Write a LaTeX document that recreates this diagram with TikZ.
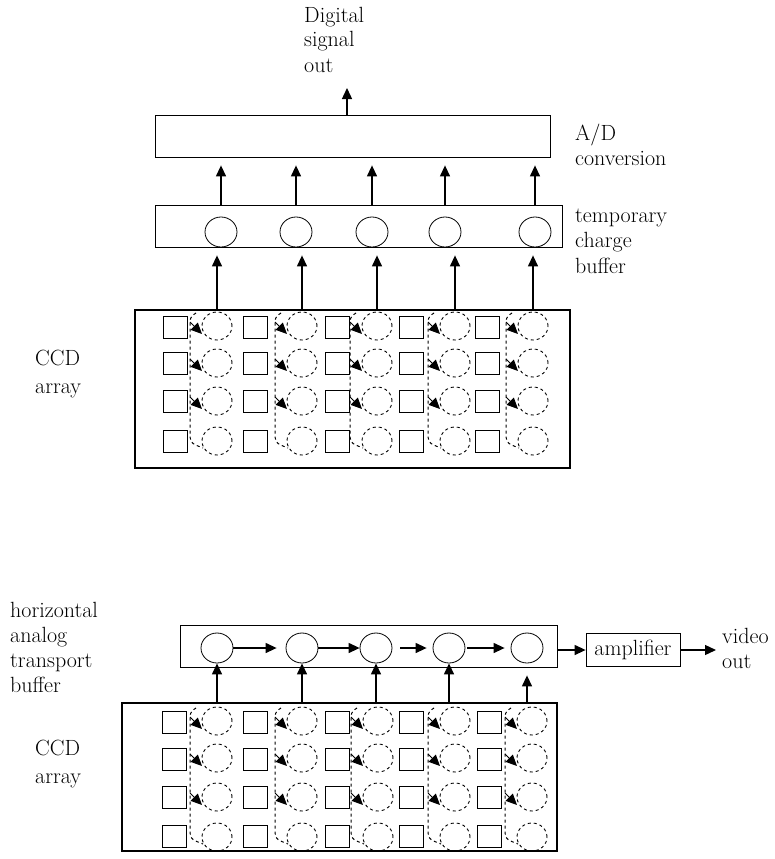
\documentclass[tikz,border=0pt]{standalone}
\usepackage{fontspec}
\usetikzlibrary{arrows.meta,shapes.geometric,calc}
\tikzset{
  lbl/.style={font=\fontsize{22}{25}\selectfont, align=left, inner sep=0pt, anchor=base west},
  box/.style={draw, line width=0.8pt, inner sep=0pt},
  arrbox/.style={draw, line width=2.2pt, inner sep=0pt},
  sq/.style={draw, line width=0.8pt, minimum width=24pt, minimum height=22pt, inner sep=0pt},
  scirc/.style={draw, ellipse, line width=0.8pt, minimum width=32pt, minimum height=30pt, inner sep=0pt},
  dcirc/.style={draw, ellipse, line width=0.9pt, dash pattern=on 3pt off 3pt, minimum width=30pt, minimum height=28pt, inner sep=0pt},
  arr/.style={line width=1.3pt, -{Triangle[length=11pt,width=10pt]}},
  flow/.style={line width=1pt, dash pattern=on 3pt off 3pt},
  fhead/.style={line width=1pt, -{Triangle[length=11pt,width=10pt]}}
}
\begin{document}
\begin{tikzpicture}[x=1pt,y=-1pt]
\useasboundingbox (0,0) rectangle (775,859);

% ---------------- top diagram ----------------
\node[lbl] (tdig) at (304,72) {Digital\\signal\\out};
\node[box, minimum width=395pt, minimum height=42pt] (ad) at (352.5,136) {};
\coordinate (dout) at (347,88);
\draw[arr] (dout |- ad.north) -- (dout);
\node[lbl] (tad) at (575,165) {A/D\\conversion};

\node[box, minimum width=407pt, minimum height=42pt] (tbuf) at (358.5,226) {};
\node[lbl, font=\fontsize{22}{25.5}\selectfont] (ttcb) at (575,273) {temporary\\charge\\buffer};
\foreach \i/\x in {1/221,2/296,3/372,4/445,5/535}{
  \node[scirc] (tb\i) at (\x,232) {};
  \draw[arr, shorten >=8pt] (tb\i.north |- tbuf.north) -- (tb\i.north |- ad.south);
}

\node[arrbox, minimum width=435pt, minimum height=158pt] (arrA) at (352.5,389) {};
\node[lbl, font=\fontsize{22}{28}\selectfont] (tccdA) at (35,393) {CCD\\array};

% squares
\foreach \c/\x in {1/175,2/255,3/337,4/411,5/487}{
  \foreach \r/\y in {1/327,2/363,3/401,4/441}{
    \node[sq] (sA\c\r) at (\x,\y) {};
  }
}
% dashed wells and flow
\foreach \c/\x in {1/217,2/302,3/377,4/455,5/533}{
  \foreach \r/\y in {1/326,2/363,3/401,4/441}{
    \node[dcirc] (dA\c\r) at (\x,\y) {};
  }
  \draw[flow] ({\x-21},313) .. controls ({\x-27},317) .. ({\x-27},330) -- ({\x-27},430) .. controls ({\x-27},443) .. ({\x-14},448);
  \foreach \y in {326,363,401}{
    \draw[fhead] ({\x-27},{\y-4}) -- ({\x-15},{\y+8});
  }
  \draw[arr, shorten >=8pt] (dA\c1.north |- arrA.north) -- (dA\c1.north |- tbuf.south);
}

% ---------------- bottom diagram ----------------
\node[lbl] (thatb) at (10,692) {horizontal\\analog\\transport\\buffer};
\node[box, minimum width=377pt, minimum height=42pt] (lbuf) at (368.5,646) {};
\foreach \i/\x in {1/217,2/302,3/376,4/449,5/527}{
  \node[scirc] (lc\i) at (\x,648) {};
}
\draw[arr, shorten >=9pt] (lc1.east) -- (lc2.west);
\draw[arr] (lc2.east) -- (lc3.west);
\draw[arr, shorten <=8pt, shorten >=6pt] (lc3.east) -- (lc4.west);
\draw[arr, shorten <=2pt, shorten >=6pt] (lc4.east) -- (lc5.west);

\node[box, font=\fontsize{22}{25}\selectfont, minimum width=94pt, minimum height=33pt] (amp) at (633,650) {amplifier};
\draw[arr] (lbuf.east |- amp.west) -- (amp.west);
\coordinate (vout) at (716,650);
\draw[arr] (amp.east) -- (vout);
\node[lbl] (tvid) at (722,668) {video\\out};

\node[arrbox, minimum width=435pt, minimum height=148pt] (arrB) at (339.5,777) {};
\node[lbl, font=\fontsize{22}{28}\selectfont] (tccdB) at (35,783) {CCD\\array};

\foreach \c/\x in {1/174.5,2/255,3/337.5,4/411,5/489}{
  \foreach \r/\y in {1/722.5,2/759.5,3/797,4/836.5}{
    \node[sq] (sB\c\r) at (\x,\y) {};
  }
}
\foreach \c/\x in {1/217,2/302,3/378,4/455,5/532}{
  \foreach \r/\y in {1/721,2/758,3/797,4/837}{
    \node[dcirc] (dB\c\r) at (\x,\y) {};
  }
  \draw[flow] ({\x-21},708) .. controls ({\x-27},712) .. ({\x-27},725) -- ({\x-27},826) .. controls ({\x-27},839) .. ({\x-14},844);
  \foreach \y in {721,758,797}{
    \draw[fhead] ({\x-27},{\y-4}) -- ({\x-15},{\y+8});
  }
}
\foreach \i in {1,2,3,4}{
  \draw[arr] (lc\i.south |- arrB.north) -- (lc\i.south);
}
\draw[arr, shorten >=12pt] (lc5.south |- arrB.north) -- (lc5.south);
\end{tikzpicture}
\end{document}
